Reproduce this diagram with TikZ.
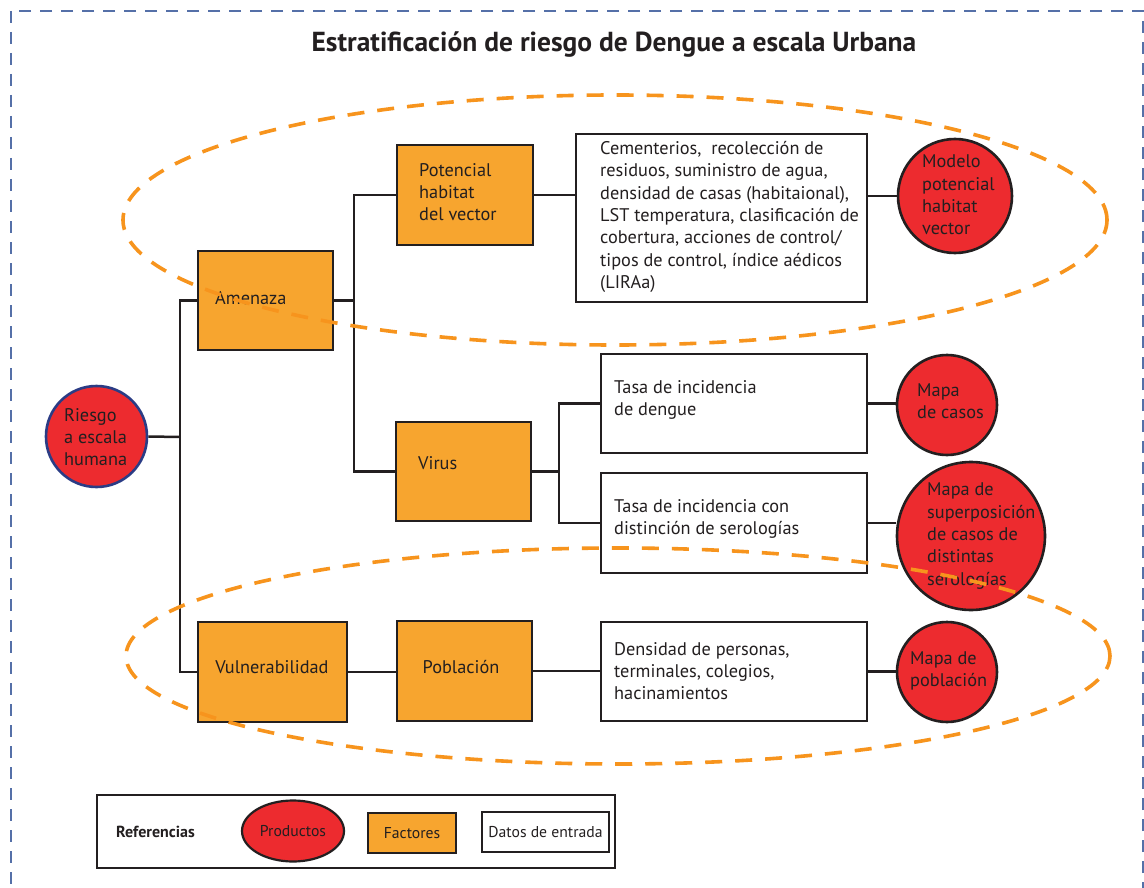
\documentclass[tikz,border=0pt]{standalone}
\usepackage{fontspec}
\setmainfont{PT Sans}
\usetikzlibrary{shapes.geometric}
\definecolor{myred}{HTML}{ED2B2F}
\definecolor{myorange}{HTML}{F7A52F}
\definecolor{ellorange}{HTML}{F7941D}
\definecolor{ink}{HTML}{231F20}
\definecolor{navy}{HTML}{2B3C85}
\definecolor{bordblue}{HTML}{5570A8}
\begin{document}
\begin{tikzpicture}[x=1pt,y=-1pt,
 factor/.style={draw=ink, fill=myorange, line width=2.8pt, inner sep=0pt},
 datos/.style={draw=ink, fill=white, line width=2.6pt, inner sep=0pt},
 prod/.style={circle, draw=ink, fill=myred, line width=2.6pt, inner sep=0pt},
 txt/.style={text=ink, font=\fontsize{18.3}{22.3}\selectfont, align=left, inner sep=0pt},
 conn/.style={draw=ink, line width=2.5pt},
 zone/.style={draw=ellorange, line width=3.6pt, dash pattern=on 17pt off 13pt},
 legtxt/.style={text=ink, font=\fontsize{15.7}{17}\selectfont}
]
\useasboundingbox (0,0) rectangle (1144,888);
\fill[white] (0,0) rectangle (1144,888);
\draw[bordblue, line width=2pt, dash pattern=on 12pt off 9pt] (11,11) rectangle (1143,905);

\node[font=\bfseries\fontsize{27.5}{30}\selectfont, text=ink] (title) at (614,45) {Estratificación de riesgo de Dengue a escala Urbana};

% products
\node[prod, draw=navy, minimum size=101pt] (rie) at (96.5,436.5) {};
\node[txt, anchor=west] (trie) at (64,437) {Riesgo\\a escala\\humana};

% factors
\node[factor, minimum width=135pt, minimum height=99pt] (am) at (265.5,300.5) {};
\node[txt, anchor=west] (tam) at (215,298) {Amenaza};
\node[factor, minimum width=136pt, minimum height=100pt] (pot) at (465,195) {};
\node[txt, anchor=west] (tpot) at (419,192) {Potencial\\habitat\\del vector};
\node[factor, minimum width=135pt, minimum height=99pt] (vir) at (463.5,471.5) {};
\node[txt, anchor=west] (tvir) at (418,463) {Virus};
\node[factor, minimum width=149pt, minimum height=100pt] (vul) at (272.5,672) {};
\node[txt] (tvul) at (272,667) {Vulnerabilidad};
\node[factor, minimum width=135pt, minimum height=100pt] (pob) at (464.5,671) {};
\node[txt] (tpob) at (461,667) {Población};

% input data
\node[datos, minimum width=291pt, minimum height=168pt] (d1) at (721.5,218) {};
\node[txt, anchor=west] (td1) at (600,217) {Cementerios,\ \ recolección de\\residuos, suministro de agua,\\densidad de casas (habitaional),\\LST temperatura, clasificación de\\cobertura, acciones de control/\\tipos de control, índice aédicos\\(LIRAa)};
\node[datos, minimum width=266pt, minimum height=99pt] (d2) at (734,403.5) {};
\node[txt, anchor=west] (td2) at (614,400) {Tasa de incidencia\\de dengue};
\node[datos, minimum width=266pt, minimum height=100pt] (d3) at (734,523) {};
\node[txt, anchor=west] (td3) at (614,519) {Tasa de incidencia con\\distinción de serologías};
\node[datos, minimum width=266pt, minimum height=99pt] (d4) at (734,671.5) {};
\node[txt, anchor=west] (td4) at (614,671) {Densidad de personas,\\terminales, colegios,\\hacinamientos};

% output products
\node[prod, minimum size=114pt] (mod) at (955,196) {};
\node[txt, anchor=west] (tmod) at (922,195) {Modelo\\potencial\\habitat\\vector};
\node[prod, minimum size=100pt] (cas) at (947,405) {};
\node[txt, anchor=west] (tcas) at (917,401) {Mapa\\de casos};
\node[prod, minimum size=148pt] (ser) at (971,536) {};
\node[txt, anchor=west] (tser) at (927,536) {Mapa de\\superposición\\de casos de\\distintas\\serologías};
\node[prod, minimum size=100pt] (pbl) at (947,672) {};
\node[txt, anchor=west] (tpbl) at (910,671) {Mapa de\\población};

% connectors
\coordinate (j1) at (180,437);
\coordinate (j2) at (354,300.5);
\coordinate (j3) at (559,471.5);
\draw[conn] (rie.east) -- (j1);
\draw[conn] (am.west) -| (j1) |- (vul.west);
\draw[conn] (am.east) -- (j2);
\draw[conn] (pot.west) -| (j2) |- (vir.west);
\draw[conn] (vir.east) -- (j3);
\draw[conn] (d2.west) -| (j3) |- (d3.west);
\draw[conn] (pot.east) -- (pot.east -| d1.west);
\draw[conn] (mod.west -| d1.east) -- (mod.west);
\draw[conn] (d2.east) -- (d2.east -| cas.west);
\draw[conn] (d3.east) -- (d3.east -| ser.west);
\draw[conn] (d4.east) -- (d4.east -| pbl.west);
\draw[conn] (vul.east) -- (vul.east -| pob.west);
\draw[conn] (pob.east) -- (pob.east -| d4.west);

% legend
\node[draw=ink, line width=2.6pt, minimum width=518pt, minimum height=73pt, inner sep=0pt] (leg) at (356,831.5) {};
\node[text=ink, font=\bfseries\fontsize{16}{18}\selectfont, anchor=west, inner sep=0pt] (lref) at (116,832) {Referencias};
\node[ellipse, draw=ink, fill=myred, line width=2.2pt, minimum width=102pt, minimum height=61pt, inner sep=0pt, legtxt] (lprod) at (293,831) {Productos};
\node[factor, line width=2.4pt, minimum width=88pt, minimum height=40pt, legtxt] (lfac) at (412,833) {Factores};
\node[datos, line width=2.4pt, minimum width=127pt, minimum height=40pt, legtxt] (ldat) at (545.5,832) {Datos de entrada};

% dashed zones
\draw[zone] (615,220) ellipse [x radius=492pt, y radius=125pt];
\draw[zone] (618,656) ellipse [x radius=492pt, y radius=108pt];
\end{tikzpicture}
\end{document}
